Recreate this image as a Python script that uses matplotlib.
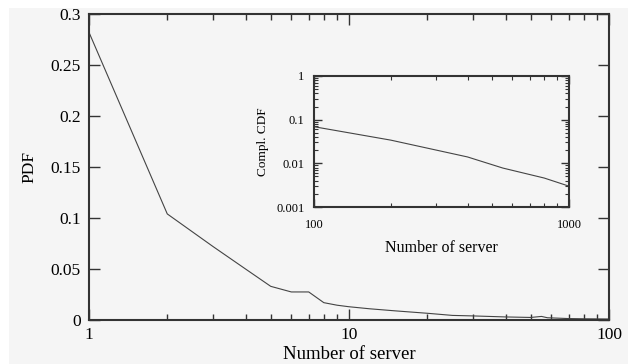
import numpy as np
import matplotlib
matplotlib.use('Agg')
from matplotlib import pyplot as plt
from matplotlib import ticker
from matplotlib.patches import Rectangle

plt.rcParams['font.family'] = ['Liberation Serif', 'DejaVu Serif']

# Main curve: PDF of number of servers
n_server = [1, 2, 3, 4, 5, 6, 7, 8, 9, 10, 12, 15, 20, 25, 30, 40, 50, 55, 58, 70, 80, 100]
pdf = [0.282, 0.104, 0.072, 0.050, 0.033, 0.0275, 0.0275, 0.017, 0.0145, 0.013, 0.011,
       0.009, 0.0066, 0.0045, 0.004, 0.003, 0.0025, 0.0035, 0.0022, 0.0014, 0.0012, 0.001]

# Inset: complementary CDF
n_server_ccdf = [100, 200, 400, 550, 800, 1000]
ccdf = [0.069, 0.034, 0.014, 0.0078, 0.0046, 0.003]

main_yticks = [0, 0.05, 0.1, 0.15, 0.2, 0.25, 0.3]
main_ylabels = ['0', '0.05', '0.1', '0.15', '0.2', '0.25', '0.3']
inset_yticks = [0.001, 0.01, 0.1, 1]
inset_ylabels = ['0.001', '0.01', '0.1', '1']

line_col = '#444444'
bg = '#f5f5f5'

fig = plt.figure(figsize=(6.28, 3.64), dpi=100, facecolor='white')
fig.patches.append(Rectangle((9 / 628, 0), 1, 1 - 8 / 364, transform=fig.transFigure,
                             facecolor=bg, edgecolor='none', zorder=-10))

ax = fig.add_axes([89 / 628, 1 - 320 / 364, 520 / 628, 306 / 364])
ax.set_facecolor(bg)
ax.plot(n_server, pdf, color=line_col, lw=0.8)
ax.set_xscale('log')
ax.set_xlim(1, 100)
ax.set_ylim(0, 0.3)
ax.set_xticks([1, 10, 100])
ax.set_xticklabels(['1', '10', '100'])
ax.xaxis.set_minor_locator(ticker.LogLocator(base=10, subs=np.arange(2, 10)))
ax.xaxis.set_minor_formatter(ticker.NullFormatter())
ax.set_yticks(main_yticks)
ax.set_yticklabels(main_ylabels)
ax.tick_params(which='both', direction='in', top=True, right=True, labelsize=12.5, color='#333333')
ax.tick_params(which='major', length=8, width=1)
ax.tick_params(which='minor', length=4, width=1)
ax.tick_params(axis='x', pad=5)
ax.tick_params(axis='y', pad=6)
for s in ax.spines.values():
    s.set_linewidth(1.5)
    s.set_color('#333333')
ax.set_xlabel('Number of server', fontsize=13.5, va='top')
ax.xaxis.set_label_coords(0.5, -0.085)
ax.set_ylabel('PDF', fontsize=12.5, labelpad=9)

ins = fig.add_axes([314 / 628, 1 - 207 / 364, 255 / 628, 131 / 364])
ins.set_facecolor(bg)
ins.plot(n_server_ccdf, ccdf, color=line_col, lw=0.8)
ins.set_xscale('log')
ins.set_yscale('log')
ins.set_xlim(100, 1000)
ins.set_ylim(0.001, 1)
ins.set_xticks([100, 1000])
ins.set_xticklabels(['100', '1000'])
ins.xaxis.set_minor_locator(ticker.LogLocator(base=10, subs=np.arange(2, 10)))
ins.xaxis.set_minor_formatter(ticker.NullFormatter())
ins.set_yticks(inset_yticks)
ins.set_yticklabels(inset_ylabels)
ins.yaxis.set_minor_locator(ticker.LogLocator(base=10, subs=np.arange(2, 10)))
ins.yaxis.set_minor_formatter(ticker.NullFormatter())
ins.tick_params(which='both', direction='in', top=True, right=True, labelsize=9, color='#333333')
ins.tick_params(which='major', length=6, width=1)
ins.tick_params(which='minor', length=3, width=0.8)
ins.tick_params(axis='x', pad=9)
ins.tick_params(axis='y', pad=7)
for s in ins.spines.values():
    s.set_linewidth(1.5)
    s.set_color('#333333')
ins.set_xlabel('Number of server', fontsize=11.5, labelpad=6)
ins.set_ylabel('Compl. CDF', fontsize=9.5, labelpad=5)

fig.savefig('out.png', dpi=100, facecolor='white')
